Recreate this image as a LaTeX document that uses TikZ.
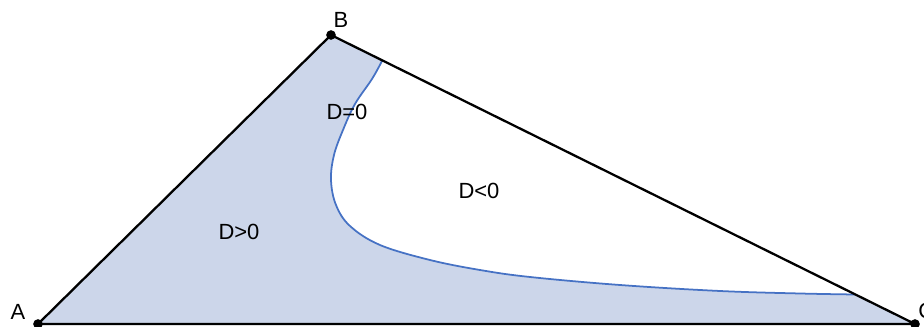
\documentclass[tikz,border=0pt]{standalone}
\usepackage{fontspec}
\setmainfont{Liberation Sans}
\usepackage{tikz}

\definecolor{regionblue}{RGB}{204,214,234}
\definecolor{curveblue}{RGB}{70,114,196}

\tikzset{
  side/.style={line width=1.3pt, black},
  dcurve/.style={line width=1pt, curveblue},
  vertex/.style={circle, fill=black, inner sep=0pt, minimum size=5.5pt},
  lbl/.style={font=\fontsize{12.5}{15}\selectfont, inner sep=0pt}
}

\begin{document}
\begin{tikzpicture}[x=0.02cm, y=-0.02cm]
  \useasboundingbox (0,0) rectangle (924,327);

  % Triangle corners
  \coordinate (A) at (38,324);
  \coordinate (B) at (331,35);
  \coordinate (C) at (915,324);

  % Where the curve D=0 meets the side BC
  \coordinate (P) at (382,61);
  \coordinate (Q) at (855,294.5);

  % Shaded region D>0
  \fill[regionblue] (A) -- (B) -- (P)
    -- plot[smooth, tension=0.6] coordinates {(382,61) (372,79) (355,104) (343,130) (334,155) (331,180) (336,205) (350,226) (380,245) (430,260) (480,270) (530,277) (620,285) (720,291) (800,293.5) (855,294.5)}
    -- (C) -- cycle;

  % Curve D=0
  \draw[dcurve] plot[smooth, tension=0.6] coordinates {(382,61) (372,79) (355,104) (343,130) (334,155) (331,180) (336,205) (350,226) (380,245) (430,260) (480,270) (530,277) (620,285) (720,291) (800,293.5) (855,294.5)};

  % Sides
  \draw[side] (A) -- (B) -- (C) -- cycle;

  % Corner dots and labels
  \node[vertex] (a) at (A) {};
  \node[vertex] (b) at (B) {};
  \node[vertex] (c) at (C) {};
  \node[lbl] (la) at (18,312) {A};
  \node[lbl] (lb) at (341,20) {B};
  \node[lbl, anchor=west] (lc) at (918,311) {C};

  % Region labels
  \node[lbl] (pos) at (239,232) {D>0};
  \node[lbl] (neg) at (479,191) {D<0};
  \node[lbl] (zero) at (347,112) {D=0};
\end{tikzpicture}
\end{document}
